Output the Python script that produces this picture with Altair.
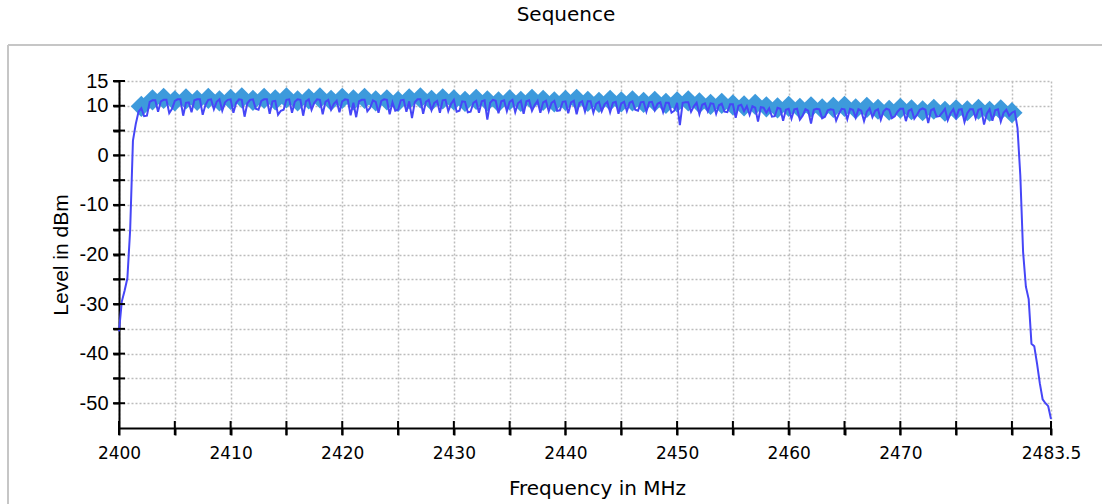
import altair as alt
import pandas as pd

# ---------------- data ----------------
# channel markers (1 MHz channels 2402 ... 2480 MHz), level in dBm
channel_freqs = list(range(2402, 2481))
channel_levels = [
    9.9, 11.2, 11.5, 11.0, 11.4, 11.1, 11.5, 11.0, 11.3, 11.6,
    11.1, 11.5, 11.2, 11.6, 11.0, 11.4, 11.6, 11.1, 11.5, 11.2,
    11.5, 11.0, 11.2, 10.9, 11.4, 11.6, 11.1, 11.4, 11.2, 10.9,
    11.3, 11.0, 10.8, 11.2, 10.9, 11.3, 11.1, 10.8, 11.1, 11.3,
    10.9, 10.7, 11.1, 10.8, 11.0, 10.7, 10.9, 10.5, 10.8, 11.0,
    10.6, 10.3, 10.5, 10.2, 10.0, 10.3, 9.8, 9.6, 9.9, 9.5,
    9.8, 9.4, 9.7, 9.9, 9.4, 9.7, 9.3, 9.1, 9.5, 9.2,
    9.0, 9.3, 8.9, 9.2, 9.0, 9.3, 8.9, 9.2, 8.6,
]

# spectrum trace, sampled every 0.25 MHz from 2400.0 to 2483.5 MHz
trace_start = 2400.0
trace_step = 0.25
trace_levels = [
    -35.5, -29.5, -27.3, -24.8,   # 2400
    -15.0, 3.0, 6.3, 8.8,         # 2401
    9.5, 7.9, 8.0, 10.8,          # 2402
    11.1, 11.1, 8.8, 10.9,
    11.2, 11.2, 8.5, 9.4,
    11.0, 11.3, 11.3, 8.0,
    10.6, 10.7, 8.7, 11.1,
    11.3, 11.3, 8.2, 10.2,
    11.2, 11.3, 9.3, 10.8,
    11.3, 9.0, 10.7, 11.2,
    11.3, 8.6, 10.6, 11.3,        # 2410
    11.2, 7.8, 10.5, 11.2,
    11.3, 9.4, 9.2, 11.0,
    11.3, 11.3, 8.4, 10.9,
    11.0, 8.2, 9.0, 9.2,
    11.2, 11.3, 8.6, 10.8,
    11.3, 11.2, 8.0, 10.9,
    11.3, 9.2, 10.6, 11.3,
    11.2, 8.3, 10.8, 11.2,
    9.2, 10.4, 11.0, 8.7,
    10.9, 11.3, 11.2, 8.1,        # 2420
    10.6, 7.7, 10.9, 11.2,
    11.2, 8.9, 9.6, 11.1,
    10.8, 8.6, 11.0, 11.3,
    11.2, 8.3, 10.7, 9.0,
    9.2, 11.1, 11.2, 8.8,
    10.9, 7.5, 10.7, 11.3,
    11.3, 8.4, 10.8, 11.2,
    9.1, 10.6, 11.0, 8.6,
    11.1, 11.2, 8.9, 10.4,
    11.2, 8.8, 9.0, 10.9,         # 2430
    10.8, 8.7, 8.8, 10.6,
    11.0, 8.6, 10.9, 11.1,
    7.2, 10.6, 11.2, 11.0,
    8.5, 10.9, 11.1, 8.9,
    10.8, 11.2, 8.7, 10.5,
    11.0, 8.4, 10.9, 11.1,
    9.0, 10.2, 11.0, 8.6,
    10.7, 11.0, 8.9, 10.6,
    11.0, 9.0, 9.1, 10.8,
    10.9, 8.5, 10.7, 11.0,        # 2440
    8.3, 10.6, 10.9, 8.8,
    10.9, 10.9, 8.6, 10.4,
    10.8, 8.9, 10.3, 10.8,
    8.7, 10.6, 10.8, 8.4,
    10.5, 10.8, 8.9, 10.6,
    10.9, 9.2, 9.0, 10.7,
    10.8, 8.8, 10.7, 10.8,
    9.1, 10.4, 10.7, 8.7,
    10.6, 10.6, 8.6, 9.0,
    10.6, 6.1, 10.6, 10.7,        # 2450
    10.7, 8.8, 9.9, 10.6,
    8.3, 10.2, 10.5, 8.9,
    10.5, 10.4, 8.4, 10.1,
    10.4, 8.8, 8.7, 10.3,
    10.3, 7.6, 10.0, 10.2,
    8.9, 9.9, 8.2, 9.9,
    9.6, 6.8, 9.7, 9.6,
    8.6, 9.5, 7.8, 7.9,
    9.6, 9.4, 7.0, 9.2,
    9.4, 7.4, 9.3, 9.4,           # 2460
    7.2, 8.0, 9.3, 9.0,
    6.4, 9.2, 9.4, 9.3,
    7.5, 7.8, 9.1, 9.3,
    9.2, 7.0, 8.4, 9.4,
    9.3, 7.3, 9.4, 9.2,
    7.6, 9.3, 9.0, 6.9,
    8.8, 9.5, 7.7, 9.0,
    9.3, 7.2, 8.9, 9.4,
    9.2, 7.5, 7.9, 8.8,
    9.4, 9.4, 6.9, 9.0,           # 2470
    9.3, 7.4, 8.2, 9.2,
    9.5, 9.2, 6.5, 9.1,
    9.4, 7.8, 7.9, 8.6,
    9.4, 7.1, 8.5, 9.3,
    7.6, 9.2, 9.3, 6.7,
    8.5, 9.3, 9.3, 7.5,
    9.2, 9.4, 6.2, 8.4,
    9.3, 7.0, 9.1, 9.3,
    6.8, 8.6, 9.2, 8.0,
    8.6, 8.9, 5.5, -4.0,          # 2480
    -19.5, -26.5, -29.0, -38.0,   # 2481
    -38.5, -42.0, -46.0, -49.2,   # 2482
    -50.0, -50.6, -53.2,          # 2483 .. 2483.5
]

x_tick_values = [2400, 2405, 2410, 2415, 2420, 2425, 2430, 2435, 2440, 2445,
                 2450, 2455, 2460, 2465, 2470, 2475, 2480, 2483.5]
y_tick_values = [-50, -45, -40, -35, -30, -25, -20, -15, -10, -5, 0, 5, 10, 15]

x_domain = [2400, 2483.5]
y_domain = [-55, 15]

# ---------------- tables ----------------
trace_df = pd.DataFrame({
    "f": [trace_start + i * trace_step for i in range(len(trace_levels))],
    "lvl": trace_levels,
})
chan_df = pd.DataFrame({"f": channel_freqs, "lvl": channel_levels})
xt_df = pd.DataFrame({"f": x_tick_values, "lvl": [y_domain[0]] * len(x_tick_values)})
yt_df = pd.DataFrame({"f": [x_domain[0]] * len(y_tick_values), "lvl": y_tick_values})

GRID = "#bcbcbc"
LABEL_FONT = "DejaVu Sans"
Y_FONT = "Liberation Sans"

x_axis = alt.Axis(
    values=x_tick_values,
    labelExpr="datum.value == 2483.5 ? '2483.5' : ((datum.value % 10 == 0 && datum.value != 2480) ? toString(datum.value) : '')",
    labelOverlap=False,
    labelFlush=False,
    labelFont=LABEL_FONT,
    labelFontSize=17,
    labelColor="black",
    labelPadding=10,
    tickSize=7,
    tickWidth=2,
    tickColor="black",
    domainColor="black",
    domainWidth=2,
    grid=True,
    gridColor=GRID,
    gridDash=[2, 2],
    gridWidth=1.5,
    title="Frequency in MHz",
    titleFont=LABEL_FONT,
    titleFontSize=20,
    titleFontWeight="normal",
    titleColor="black",
    titleX=478,
    titleY=50,
    titleAlign="center",
    titleBaseline="top",
)

y_axis = alt.Axis(
    values=y_tick_values,
    labelExpr="(datum.value % 10 == 0 || datum.value == 15) ? toString(datum.value) : ''",
    labelOverlap=False,
    labelFlush=False,
    labelFont=Y_FONT,
    labelFontSize=20,
    labelColor="black",
    labelPadding=5,
    tickSize=6,
    tickWidth=2,
    tickColor="black",
    domainColor="black",
    domainWidth=2,
    grid=True,
    gridColor=GRID,
    gridDash=[2, 2],
    gridWidth=1.5,
    title="Level in dBm",
    titleFont=Y_FONT,
    titleFontSize=21,
    titleFontWeight="normal",
    titleColor="black",
    titlePadding=8,
)

X = alt.X("f:Q", scale=alt.Scale(domain=x_domain, nice=False, zero=False), axis=x_axis)
Y = alt.Y("lvl:Q", scale=alt.Scale(domain=y_domain, nice=False, zero=False), axis=y_axis)

diamonds = alt.Chart(chan_df).mark_point(
    shape="diamond", filled=True, size=450, color="#3d9adc", opacity=1, strokeWidth=0
).encode(x=X, y=Y)

trace = alt.Chart(trace_df).mark_line(color="#4646f7", strokeWidth=2).encode(x=X, y=Y)

x_ticks = alt.Chart(xt_df).mark_tick(
    orient="vertical", size=14, thickness=2, color="black", opacity=1
).encode(x=X, y=Y)

y_ticks = alt.Chart(yt_df).mark_tick(
    orient="horizontal", size=12, thickness=2, color="black", opacity=1
).encode(x=X, y=Y)

frame_df = pd.DataFrame({"a": [0]})
frame_top = alt.Chart(frame_df).mark_rule(color="#c6c6c6", strokeWidth=2).encode(
    x=alt.value(-111), x2=alt.value(1000), y=alt.value(-36)
)
frame_left = alt.Chart(frame_df).mark_rule(color="#c6c6c6", strokeWidth=2).encode(
    x=alt.value(-111), y=alt.value(-36), y2=alt.value(440)
)

chart = alt.layer(frame_top, frame_left, diamonds, trace, x_ticks, y_ticks).properties(
    width=932,
    height=347,
    padding={"left": 119, "top": 81, "right": 51, "bottom": 76},
    autosize=alt.AutoSizeParams(type="none"),
    background="white",
    title=alt.TitleParams(
        text="Sequence",
        font=LABEL_FONT,
        fontSize=20,
        fontWeight="normal",
        color="black",
        anchor="middle",
        frame="group",
        offset=19,
        dx=-19,
    ),
).configure_view(strokeWidth=0)

chart.save("out.html", embed_options={"renderer": "svg", "actions": False})
